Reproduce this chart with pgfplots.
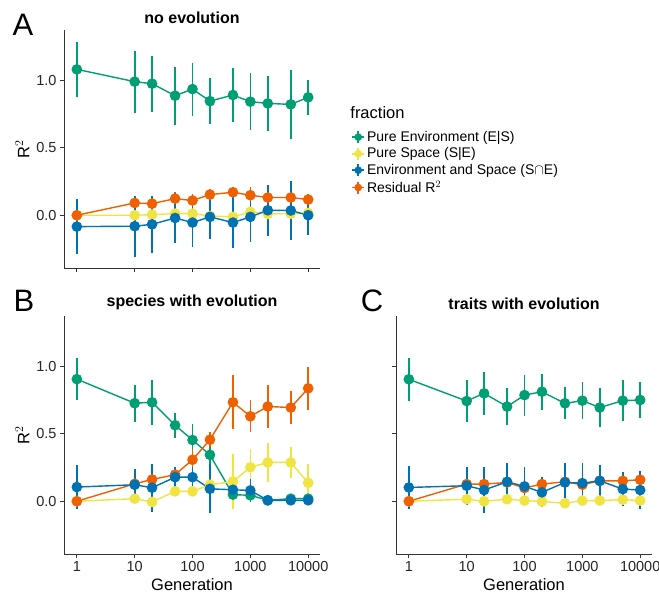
\documentclass[border=0pt]{standalone}
\usepackage{pgfplots}
\usepackage{pgfplotstable}
\usepackage{fontspec}
\setmainfont{Liberation Sans}
\pgfplotsset{compat=1.18}

\definecolor{cgreen}{HTML}{009E73}
\definecolor{cyellow}{HTML}{F0E442}
\definecolor{cblue}{HTML}{0072B2}
\definecolor{corange}{HTML}{EE6000}
\definecolor{spine}{HTML}{333333}

% x: generation, g/y/b/o: mean R2 of each fraction, *e: error half-width
\pgfplotstableread{
x g ge y ye b be o oe
1 1.079 0.205 0.000 0.02 -0.084 0.205 0.000 0.03
10 0.988 0.230 0.000 0.02 -0.081 0.225 0.091 0.05
20 0.973 0.207 0.005 0.02 -0.067 0.210 0.086 0.05
50 0.884 0.216 0.012 0.02 -0.020 0.185 0.123 0.05
100 0.933 0.196 0.012 0.02 -0.054 0.184 0.109 0.05
200 0.844 0.168 -0.005 0.02 -0.012 0.164 0.153 0.04
500 0.889 0.203 -0.012 0.02 -0.054 0.190 0.170 0.03
1000 0.840 0.210 0.025 0.02 -0.012 0.188 0.148 0.06
2000 0.827 0.205 0.010 0.02 0.037 0.190 0.131 0.05
5000 0.820 0.253 0.012 0.02 0.035 0.219 0.131 0.07
10000 0.872 0.131 0.017 0.02 0.000 0.146 0.116 0.04
}\noevo

\pgfplotstableread{
x g ge y ye b be o oe
1 0.903 0.156 0.000 0.02 0.105 0.160 0.000 0.03
10 0.725 0.136 0.019 0.03 0.122 0.118 0.129 0.04
20 0.732 0.168 -0.005 0.03 0.100 0.176 0.161 0.04
50 0.562 0.094 0.073 0.03 0.178 0.073 0.197 0.03
100 0.453 0.116 0.073 0.03 0.178 0.073 0.307 0.08
200 0.343 0.120 0.122 0.03 0.092 0.180 0.455 0.055
500 0.049 0.03 0.146 0.20 0.085 0.04 0.732 0.20
1000 0.044 0.03 0.251 0.134 0.080 0.085 0.628 0.118
2000 0.007 0.02 0.287 0.146 0.007 0.02 0.701 0.156
5000 0.019 0.03 0.287 0.112 0.007 0.03 0.693 0.122
10000 0.019 0.03 0.136 0.142 0.007 0.02 0.835 0.158
}\speciesevo

\pgfplotstableread{
x g ge y ye b be o oe
1 0.902 0.159 0.000 0.02 0.102 0.160 0.000 0.03
10 0.741 0.155 0.015 0.02 0.115 0.139 0.127 0.03
20 0.798 0.159 0.000 0.02 0.083 0.170 0.127 0.03
50 0.700 0.139 0.015 0.02 0.144 0.140 0.139 0.03
100 0.785 0.151 0.005 0.02 0.110 0.141 0.098 0.03
200 0.810 0.134 -0.002 0.02 0.066 0.112 0.127 0.05
500 0.724 0.118 -0.015 0.02 0.139 0.146 0.144 0.03
1000 0.744 0.139 0.005 0.02 0.134 0.146 0.122 0.03
2000 0.693 0.146 0.005 0.02 0.151 0.116 0.151 0.03
5000 0.744 0.152 0.012 0.02 0.090 0.126 0.151 0.03
10000 0.749 0.132 0.005 0.02 0.083 0.143 0.159 0.03
}\traitevo

\pgfplotsset{
  every axis/.append style={
    scale only axis, width=256pt, height=238pt,
    xmin=0.6, xmax=16000, ymin=-0.39, ymax=1.37,
    axis lines=left, axis line style={-, draw=spine, line width=0.8pt},
    tick align=outside, tick pos=left, major tick length=4pt,
    tick style={draw=spine, line width=0.8pt},
    xminorticks=false,
    xtick={1,10,100,1000,10000},
    ytick={0,0.5,1},
    ticklabel style={font=\fontsize{14.5}{16}\selectfont, text=black!85},
    label style={font=\fontsize{16.5}{18}\selectfont},
    title style={font=\bfseries\fontsize{16}{18}\selectfont, yshift=-3pt},
  },
  fracplot/.style={color=#1, line width=1.4pt, mark=*, mark size=4.6pt,
    mark options={solid, fill=#1, draw=#1},
    error bars/y dir=both, error bars/y explicit, error bars/error mark=none,
    error bars/error bar style={line width=1.7pt, draw=#1}, forget plot},
}

% legend key: dot with a short cross, as in the reference
\newcommand{\fkey}[1]{\addlegendimage{legend image code/.code={
    \draw[#1, line width=1.7pt] (5pt,-6pt) -- (5pt,6pt)
      (-1pt,0pt) -- (11pt,0pt);
    \fill[#1] (5pt,0pt) circle (3.6pt);}}}

\begin{document}
\begin{tikzpicture}
\useasboundingbox (0,0) rectangle (659pt,600pt);

% panel A
\begin{semilogxaxis}[at={(64pt,332pt)}, anchor=south west,
  xticklabels={}, yticklabels={0.0,0.5,1.0}, ylabel={R$^2$},
  title={no evolution}, clip=false,
  legend style={at={(1.11,0.592)}, anchor=north west, draw=none, fill=none,
    font=\fontsize{14}{16}\selectfont, row sep=0.9pt,
    /tikz/every even column/.append style={column sep=4pt},
    cells={anchor=west}}]
\addplot[fracplot=cgreen] table[x=x, y=g, y error=ge] {\noevo};
\addplot[fracplot=cyellow] table[x=x, y=y, y error=ye] {\noevo};
\addplot[fracplot=corange] table[x=x, y=o, y error=oe] {\noevo};
\addplot[fracplot=cblue] table[x=x, y=b, y error=be] {\noevo};
\fkey{cgreen}
\addlegendentry{Pure Environment (E|S)}
\fkey{cyellow}
\addlegendentry{Pure Space (S|E)}
\fkey{cblue}
\addlegendentry{Environment and Space (S$\cap$E)}
\fkey{corange}
\addlegendentry{Residual R$^2$}
\node[anchor=west, font=\fontsize{16.5}{18}\selectfont]
  at (rel axis cs:1.105,0.651) {fraction};
\end{semilogxaxis}

% panel B
\begin{semilogxaxis}[at={(64pt,46pt)}, anchor=south west,
  xticklabels={1,10,100,1000,10000}, yticklabels={0.0,0.5,1.0},
  ylabel={R$^2$}, xlabel={Generation},
  title={species with evolution}, clip=false]
\addplot[fracplot=cgreen] table[x=x, y=g, y error=ge] {\speciesevo};
\addplot[fracplot=cyellow] table[x=x, y=y, y error=ye] {\speciesevo};
\addplot[fracplot=corange] table[x=x, y=o, y error=oe] {\speciesevo};
\addplot[fracplot=cblue] table[x=x, y=b, y error=be] {\speciesevo};
\end{semilogxaxis}

% panel C
\begin{semilogxaxis}[at={(396pt,46pt)}, anchor=south west,
  xticklabels={1,10,100,1000,10000}, yticklabels={},
  xlabel={Generation},
  title={traits with evolution}, clip=false]
\addplot[fracplot=cgreen] table[x=x, y=g, y error=ge] {\traitevo};
\addplot[fracplot=cyellow] table[x=x, y=y, y error=ye] {\traitevo};
\addplot[fracplot=corange] table[x=x, y=o, y error=oe] {\traitevo};
\addplot[fracplot=cblue] table[x=x, y=b, y error=be] {\traitevo};
\end{semilogxaxis}

\node[font=\fontsize{31}{32}\selectfont] at (23pt,575pt) {A};
\node[font=\fontsize{31}{32}\selectfont] at (24pt,299pt) {B};
\node[font=\fontsize{31}{32}\selectfont] at (372pt,299pt) {C};
\end{tikzpicture}
\end{document}
